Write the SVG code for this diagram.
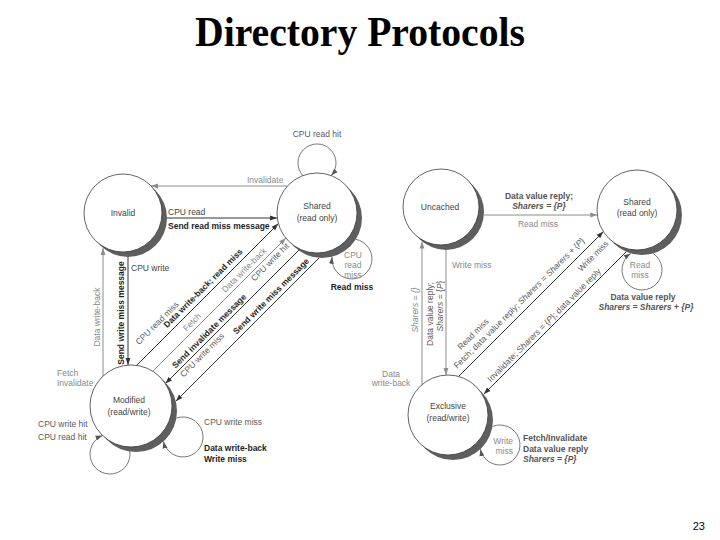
<svg xmlns="http://www.w3.org/2000/svg" width="720" height="540" viewBox="0 0 720 540">
<defs>
<style>
.t{font-family:"Liberation Sans",Arial,sans-serif;font-size:8.5px}
.d{fill:#444}
.g{fill:#8a8a8a}
.m{fill:#5a5a5a}
.b{font-weight:bold;fill:#1e1e1e}
.bm{font-weight:bold;fill:#555}
.i{font-style:italic}
.c{text-anchor:middle}
.e{text-anchor:end}
.sh{fill:#5e5e5e}
.nd{fill:#fff;stroke:#3c3c3c;stroke-width:0.8}
.lk{fill:none;stroke:#333;stroke-width:1}
.lg{fill:none;stroke:#8c8c8c;stroke-width:1}
.lp{fill:none;stroke:#555;stroke-width:0.8}
</style>
<marker id="ak" viewBox="0 0 10 10" refX="10" refY="5" markerWidth="7" markerHeight="7" markerUnits="userSpaceOnUse" orient="auto"><path d="M0,1.5 L10,5 L0,8.5 z" fill="#333"/></marker>
<marker id="ag" viewBox="0 0 10 10" refX="10" refY="5" markerWidth="7" markerHeight="7" markerUnits="userSpaceOnUse" orient="auto"><path d="M0,1.5 L10,5 L0,8.5 z" fill="#8c8c8c"/></marker>
<marker id="ap" viewBox="0 0 10 10" refX="10" refY="5" markerWidth="7" markerHeight="7" markerUnits="userSpaceOnUse" orient="auto"><path d="M0,1.5 L10,5 L0,8.5 z" fill="#555"/></marker>
</defs>
<rect width="720" height="540" fill="#fff"/>
<text x="360" y="46" font-family="'Liberation Serif','Times New Roman',serif" font-weight="bold" font-size="42" text-anchor="middle" textLength="330" lengthAdjust="spacingAndGlyphs">Directory Protocols</text>

<g id="connectors">
  <!-- left diagram -->
  <line class="lg" x1="287" y1="186" x2="151" y2="186" marker-end="url(#ag)"/>
  <line class="lk" x1="167" y1="218" x2="277" y2="218" marker-end="url(#ak)"/>
  <line class="lg" x1="103" y1="376" x2="103" y2="248" marker-end="url(#ag)"/>
  <line class="lk" x1="128" y1="257" x2="128" y2="365" marker-end="url(#ak)"/>
  <line class="lk" x1="136" y1="366" x2="278.4" y2="223.6" marker-end="url(#ak)"/>
  <line class="lg" x1="152.8" y1="371.2" x2="285.9" y2="238.1" marker-end="url(#ag)"/>
  <line class="lk" x1="299" y1="250" x2="165.4" y2="383.6" marker-end="url(#ak)"/>
  <line class="lk" x1="319.1" y1="257.9" x2="175.8" y2="401.2" marker-end="url(#ak)"/>
  <path class="lp" d="M302.8,175.6 A19,19 0 1 1 331.2,175.6" marker-end="url(#ap)"/>
  <path class="lp" d="M355.8,239.3 A20,20 0 1 1 332.1,256.7" marker-end="url(#ap)"/>
  <path class="lp" d="M176.4,418.1 A20,20 0 1 1 163.5,441.4" marker-end="url(#ap)"/>
  <path class="lp" d="M128.7,446.9 A20,20 0 1 1 102.5,435.5" marker-end="url(#ap)"/>
  <!-- right diagram -->
  <line class="lg" x1="483.9" y1="215" x2="597.3" y2="215" marker-end="url(#ag)"/>
  <line class="lg" x1="446" y1="250" x2="446" y2="375" marker-end="url(#ag)"/>
  <line class="lg" x1="422" y1="384.6" x2="422" y2="241.5" marker-end="url(#ag)"/>
  <line class="lk" x1="458.6" y1="376.4" x2="603.4" y2="231.6" marker-end="url(#ak)"/>
  <line class="lk" x1="626.2" y1="251.8" x2="483.7" y2="394.3" marker-end="url(#ak)"/>
  <path class="lp" d="M653.2,253.4 A20,20 0 1 1 630.8,253.4" marker-end="url(#ap)"/>
  <path class="lp" d="M492.6,426.4 A20,20 0 1 1 480.4,449.2" marker-end="url(#ap)"/>
</g>

<g id="node-invalid">
  <circle class="sh" cx="128" cy="218" r="39"/>
  <circle class="nd" cx="123" cy="213" r="39"/>
  <text class="t d c" x="123" y="216">Invalid</text>
</g>
<g id="node-shared-cache">
  <circle class="sh" cx="322" cy="218" r="40"/>
  <circle class="nd" cx="317" cy="213" r="40"/>
  <text class="t d c" x="317" y="209">Shared</text>
  <text class="t d c" x="317" y="220.5">(read only)</text>
</g>
<g id="node-modified">
  <circle class="sh" cx="136" cy="411" r="41"/>
  <circle class="nd" cx="131" cy="406" r="41"/>
  <text class="t d c" x="129" y="403">Modified</text>
  <text class="t d c" x="129" y="415">(read/write)</text>
</g>
<g id="node-uncached">
  <circle class="sh" cx="446" cy="212" r="38"/>
  <circle class="nd" cx="441" cy="207" r="38"/>
  <text class="t d c" x="440" y="210">Uncached</text>
</g>
<g id="node-shared-dir">
  <circle class="sh" cx="642" cy="215" r="40"/>
  <circle class="nd" cx="637" cy="210" r="40"/>
  <text class="t d c" x="637" y="205">Shared</text>
  <text class="t d c" x="637" y="216">(read only)</text>
</g>
<g id="node-exclusive">
  <circle class="sh" cx="453" cy="420" r="40"/>
  <circle class="nd" cx="448" cy="415" r="40"/>
  <text class="t d c" x="448" y="409">Exclusive</text>
  <text class="t d c" x="448" y="420.5">(read/write)</text>
</g>

<g id="labels">
  <!-- left -->
  <text class="t m c" x="317" y="137">CPU read hit</text>
  <text class="t g" x="247" y="183">Invalidate</text>
  <text class="t d" x="168" y="215">CPU read</text>
  <text class="t b" x="168" y="229">Send read miss message</text>
  <text class="t g c" x="353" y="258">CPU</text>
  <text class="t g c" x="353" y="268">read</text>
  <text class="t g c" x="353" y="278">miss</text>
  <text class="t b c" x="352" y="290">Read miss</text>
  <text class="t d" x="131" y="271">CPU write</text>
  <text class="t g c" transform="translate(97,317) rotate(-90)" y="3">Data write-back</text>
  <text class="t b c" transform="translate(121,313) rotate(-90)" y="3">Send write miss message</text>
  <text class="t m c" transform="translate(157,323) rotate(-45)" y="3">CPU read miss</text>
  <text class="t b c" transform="translate(203,288) rotate(-45)" y="3">Data write-back; read miss</text>
  <text class="t g c" transform="translate(192,322) rotate(-45)" y="3">Fetch</text>
  <text class="t g c" transform="translate(244,270) rotate(-45)" y="3">Data write-back</text>
  <text class="t m c" transform="translate(270,262) rotate(-45)" y="3">CPU write hit</text>
  <text class="t b c" transform="translate(209,331) rotate(-45)" y="3">Send invalidate message</text>
  <text class="t m c" transform="translate(202,355) rotate(-45)" y="3">CPU write miss</text>
  <text class="t b c" transform="translate(271,296) rotate(-45)" y="3">Send write miss message</text>
  <text class="t g" x="57" y="376">Fetch</text>
  <text class="t g" x="57" y="386">Invalidate</text>
  <text class="t m" x="38" y="427">CPU write hit</text>
  <text class="t m" x="38" y="440">CPU read hit</text>
  <text class="t m" x="204" y="425">CPU write miss</text>
  <text class="t b" x="204" y="451">Data write-back</text>
  <text class="t b" x="204" y="462">Write miss</text>
  <!-- right -->
  <text class="t bm c" x="539" y="199">Data value reply;</text>
  <text class="t bm c i" x="539" y="209">Sharers = {P}</text>
  <text class="t g c" x="538" y="227">Read miss</text>
  <text class="t g" x="452" y="268">Write miss</text>
  <text class="t g c i" transform="translate(415,310) rotate(-90)" y="3">Sharers = {}</text>
  <text class="t m c" transform="translate(430,314) rotate(-90)" y="3">Data value reply;</text>
  <text class="t m c" transform="translate(440,306) rotate(-90)" y="3"><tspan class="i">Sharers</tspan> = {<tspan class="i">P</tspan>}</text>
  <text class="t g c" x="391" y="377">Data</text>
  <text class="t g c" x="391" y="386">write-back</text>
  <text class="t m c" transform="translate(473,334) rotate(-45)" y="3">Read miss</text>
  <text class="t m c" transform="translate(519,303) rotate(-45)" y="3">Fetch; data value reply; <tspan class="i">Sharers</tspan> = <tspan class="i">Sharers</tspan> + {<tspan class="i">P</tspan>}</text>
  <text class="t m c" transform="translate(593,256) rotate(-45)" y="3">Write miss</text>
  <text class="t m c" transform="translate(544,325) rotate(-45)" y="3">Invalidate; <tspan class="i">Sharers</tspan> = {<tspan class="i">P</tspan>}; data value reply</text>
  <text class="t g c" x="640" y="268">Read</text>
  <text class="t g c" x="640" y="278">miss</text>
  <text class="t bm c" x="643" y="300">Data value reply</text>
  <text class="t bm c i" x="646" y="310">Sharers = Sharers + {P}</text>
  <text class="t g e" x="513" y="444">Write</text>
  <text class="t g e" x="513" y="454">miss</text>
  <text class="t bm" x="523" y="441">Fetch/Invalidate</text>
  <text class="t bm" x="523" y="451.5">Data value reply</text>
  <text class="t bm i" x="523" y="461.5">Sharers = {P}</text>
</g>
<text x="705" y="530" font-family="'Liberation Sans',Arial,sans-serif" font-size="11" text-anchor="end">23</text>
</svg>
